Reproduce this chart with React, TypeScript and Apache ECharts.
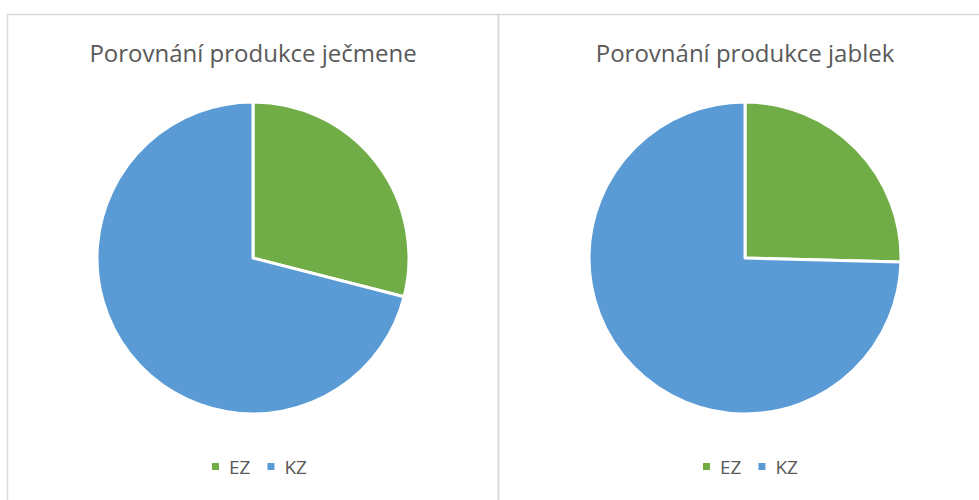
import React, { useEffect, useRef } from "react";
import * as echarts from "echarts";

const categories = ["EZ", "KZ"];
const barleyValues = [29, 71];
const appleValues = [25.4, 74.6];
const titles = ["Porovnání produkce ječmene", "Porovnání produkce jablek"];
const colors = ["#70AD47", "#5B9BD5"];

export default function App() {
  const ref = useRef<HTMLDivElement>(null);
  useEffect(() => {
    if (!ref.current) return;
    const chart = echarts.init(ref.current, undefined, { renderer: "svg" });
    const mk = (vals: number[]) => categories.map((c, i) => ({ name: c, value: vals[i] }));
    const font = "'Open Sans', sans-serif";
    const legendText = { fontFamily: font, fontSize: 19, color: "#595959", padding: [0, 0, 0, 4] };
    const titleStyle = { fontFamily: font, fontSize: 24, fontWeight: "normal", color: "#595959" };
    chart.setOption({
      animation: false,
      color: colors,
      graphic: [
        { type: "rect", shape: { x: 7.5, y: 14.5, width: 491, height: 520 }, style: { fill: "none", stroke: "#d9d9d9", lineWidth: 1.5 }, silent: true },
        { type: "rect", shape: { x: 498.5, y: 14.5, width: 520, height: 520 }, style: { fill: "none", stroke: "#d9d9d9", lineWidth: 1.5 }, silent: true },
      ],
      title: [
        { text: titles[0], left: 253, top: 40, padding: 0, textAlign: "center", textStyle: titleStyle },
        { text: titles[1], left: 745, top: 40, padding: 0, textAlign: "center", textStyle: titleStyle },
      ],
      legend: [
        { data: categories, left: 210, top: 457, padding: 0, icon: "rect", itemWidth: 9, itemHeight: 9, itemGap: 15, textStyle: legendText, selectedMode: false },
        { data: categories, left: 701, top: 457, padding: 0, icon: "rect", itemWidth: 9, itemHeight: 9, itemGap: 15, textStyle: legendText, selectedMode: false },
      ],
      series: [
        { type: "pie", center: [253, 258], radius: 156, startAngle: 90, clockwise: true, label: { show: false }, labelLine: { show: false }, itemStyle: { borderColor: "#fff", borderWidth: 3 }, emphasis: { disabled: true }, data: mk(barleyValues) },
        { type: "pie", center: [745, 258], radius: 156, startAngle: 90, clockwise: true, label: { show: false }, labelLine: { show: false }, itemStyle: { borderColor: "#fff", borderWidth: 3 }, emphasis: { disabled: true }, data: mk(appleValues) },
      ],
    });
    return () => chart.dispose();
  }, []);
  return <div ref={ref} style={{ position: "fixed", left: 0, top: 0, width: 979, height: 500, background: "#fff" }} />;
}
